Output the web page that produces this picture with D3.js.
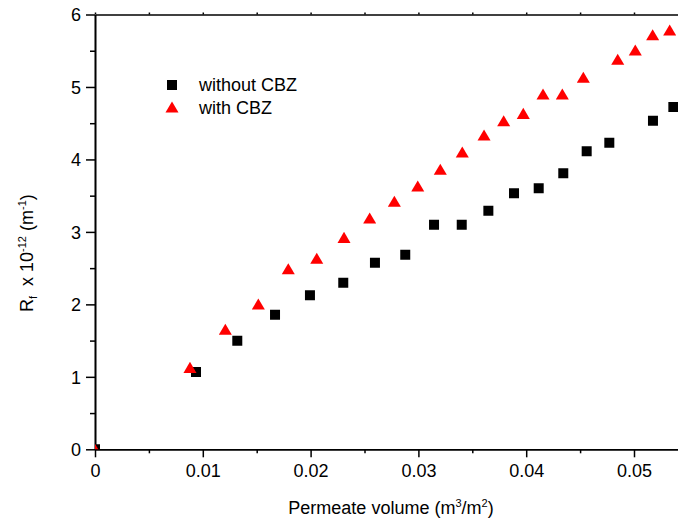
<!DOCTYPE html>
<html>
<head>
<meta charset="utf-8">
<script src="https://cdn.jsdelivr.net/npm/d3@7"></script>
<style>
  body { margin: 0; background: #fff; }
  svg { display: block; font-family: Arial, "Liberation Sans", sans-serif; }
</style>
</head>
<body>
<svg id="chart" width="678" height="521"></svg>
<script>
const seriesNames = ["without CBZ", "with CBZ"];
const volWithout = [0, 0.00937, 0.01320, 0.01670, 0.01994, 0.02303, 0.02597, 0.02878, 0.03145, 0.03402, 0.03649, 0.03887, 0.04116, 0.04344, 0.04561, 0.04771, 0.05176, 0.05365];
const rfWithout  = [0, 1.067, 1.499, 1.857, 2.125, 2.299, 2.575, 2.685, 3.099, 3.099, 3.292, 3.532, 3.601, 3.808, 4.112, 4.231, 4.534, 4.723];
const volWith = [0, 0.00881, 0.01209, 0.01515, 0.01793, 0.02057, 0.02310, 0.02548, 0.02777, 0.02994, 0.03203, 0.03407, 0.03609, 0.03791, 0.03973, 0.04156, 0.04335, 0.04530, 0.04849, 0.05012, 0.05173, 0.05331];
const rfWith  = [0, 1.131, 1.656, 2.005, 2.492, 2.636, 2.925, 3.192, 3.422, 3.633, 3.864, 4.102, 4.337, 4.534, 4.636, 4.903, 4.903, 5.133, 5.382, 5.510, 5.721, 5.786];
const xTicks = [0, 0.01, 0.02, 0.03, 0.04, 0.05];
const xTickLabels = ["0", "0.01", "0.02", "0.03", "0.04", "0.05"];
const xMinorTicks = [0.005, 0.015, 0.025, 0.035, 0.045];
const yTicks = [0, 1, 2, 3, 4, 5, 6];
const yMinorTicks = [0.5, 1.5, 2.5, 3.5, 4.5, 5.5];

const svg = d3.select("#chart");
const pLeft = 95, pRight = 95 + 0.055 * 10780, pTop = 14.5, pBottom = 449.3;
const x = d3.scaleLinear().domain([0, 0.055]).range([pLeft, pRight]);
const y = d3.scaleLinear().domain([0, 6]).range([pBottom, pTop]);

// custom triangle symbol centered on its bounding box
const triBox = {
  draw(ctx, size) {
    const w = Math.sqrt(size) * 1.2, h = w * 0.85;
    ctx.moveTo(0, -h / 2);
    ctx.lineTo(w / 2, h / 2);
    ctx.lineTo(-w / 2, h / 2);
    ctx.closePath();
  }
};
const sq = d3.symbol().type(d3.symbolSquare).size(100)();
const tri = d3.symbol().type(triBox).size(118)();

svg.append("defs").append("clipPath").attr("id", "plotclip")
  .append("rect").attr("x", pLeft).attr("y", pTop).attr("width", pRight - pLeft).attr("height", pBottom - pTop);

const axisStyle = g => {
  g.select(".domain").attr("stroke", "#000").attr("stroke-width", 1.6);
  g.selectAll(".tick line").attr("stroke", "#000").attr("stroke-width", 1.5);
  g.selectAll("text").attr("font-size", 18).attr("fill", "#000").attr("font-family", "Arial, 'Liberation Sans', sans-serif");
};

// minor ticks
svg.append("g").attr("transform", `translate(0,${pBottom})`)
  .call(d3.axisBottom(x).tickValues(xMinorTicks).tickSize(4).tickFormat("").tickSizeOuter(0))
  .call(axisStyle);
svg.append("g").attr("transform", `translate(${pLeft},0)`)
  .call(d3.axisLeft(y).tickValues(yMinorTicks).tickSize(5).tickFormat("").tickSizeOuter(0))
  .call(axisStyle);
// top axis
svg.append("g").attr("transform", `translate(0,${pTop})`)
  .call(d3.axisTop(x).tickValues(xTicks.concat(xMinorTicks)).tickSize(2).tickFormat("").tickSizeOuter(0))
  .call(axisStyle);
// right axis (beyond visible area)
svg.append("g").attr("transform", `translate(${pRight},0)`)
  .call(d3.axisRight(y).tickValues(yTicks).tickSize(2).tickFormat("").tickSizeOuter(0))
  .call(axisStyle);

// major axes
svg.append("g").attr("transform", `translate(0,${pBottom})`)
  .call(d3.axisBottom(x).tickValues(xTicks).tickSize(8).tickPadding(7)
    .tickFormat((d, i) => xTickLabels[i]).tickSizeOuter(0))
  .call(axisStyle);
svg.append("g").attr("transform", `translate(${pLeft},0)`)
  .call(d3.axisLeft(y).tickValues(yTicks).tickSize(9).tickPadding(5).tickFormat(d3.format("d")).tickSizeOuter(0))
  .call(axisStyle)
  .call(g => g.selectAll("text").attr("dy", "0.36em"));

// data
const plot = svg.append("g").attr("clip-path", "url(#plotclip)");
plot.selectAll("path.s0").data(volWithout.map((v, i) => [v, rfWithout[i]])).join("path")
  .attr("class", "s0").attr("d", sq).attr("fill", "#000")
  .attr("transform", d => `translate(${x(d[0])},${y(d[1])})`);
plot.selectAll("path.s1").data(volWith.map((v, i) => [v, rfWith[i]])).join("path")
  .attr("class", "s1").attr("d", tri).attr("fill", "#ff0000")
  .attr("transform", d => `translate(${x(d[0])},${y(d[1])})`);

// legend
const leg = svg.append("g");
leg.append("path").attr("d", sq).attr("fill", "#000").attr("transform", "translate(172,85)");
leg.append("path").attr("d", tri).attr("fill", "#ff0000").attr("transform", "translate(172,107)");
leg.append("text").attr("x", 199).attr("y", 91).attr("font-size", 18).text(seriesNames[0]);
leg.append("text").attr("x", 199).attr("y", 113.5).attr("font-size", 18).text(seriesNames[1]);

// x title
const xt = svg.append("text").attr("x", 391).attr("y", 514).attr("text-anchor", "middle").attr("font-size", 18);
xt.append("tspan").text("Permeate volume (m");
xt.append("tspan").attr("font-size", 11).attr("dy", -7).text("3");
xt.append("tspan").attr("dy", 7).text("/m");
xt.append("tspan").attr("font-size", 11).attr("dy", -7).text("2");
xt.append("tspan").attr("dy", 7).text(")");

// y title
const yt = svg.append("text").attr("transform", "translate(32.5,312) rotate(-90)").attr("font-size", 18);
yt.append("tspan").text("R");
yt.append("tspan").attr("font-size", 11).attr("dy", 4).text("f");
yt.append("tspan").attr("dy", -4).text("\u00a0\u00a0x 10");
yt.append("tspan").attr("font-size", 11).attr("dy", -7).text("-12");
yt.append("tspan").attr("dy", 7).text("\u00a0(m");
yt.append("tspan").attr("font-size", 11).attr("dy", -7).text("-1");
yt.append("tspan").attr("dy", 7).text(")");
</script>
</body>
</html>
